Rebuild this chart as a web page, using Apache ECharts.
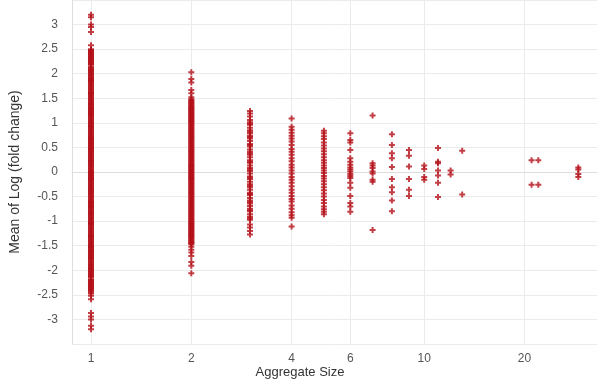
<!DOCTYPE html>
<html>
<head>
<meta charset="utf-8">
<script src="https://cdn.jsdelivr.net/npm/echarts@6/dist/echarts.min.js"></script>
<style>
  html, body { margin: 0; padding: 0; background: #fff; }
  #chart { width: 600px; height: 379px; }
</style>
</head>
<body>
<div id="chart"></div>
<script>
// mean log fold change per aggregate size
const size1 = [3.2, 3.15, 3.0, 2.95, 2.85, 2.58, 2.5, 2.46, 2.42, 2.38, 2.34, 2.3, 2.26, 2.22, 2.18,
  2.14, 2.1, 2.07, 2.03, 1.99, 1.95, 1.91, 1.87, 1.84, 1.8, 1.76, 1.72, 1.68, 1.64, 1.61, 1.57,
  1.53, 1.49, 1.45, 1.41, 1.38, 1.34, 1.3, 1.26, 1.22, 1.18, 1.15, 1.11, 1.07, 1.03, 0.99, 0.95,
  0.92, 0.88, 0.84, 0.8, 0.76, 0.72, 0.69, 0.65, 0.61, 0.57, 0.53, 0.49, 0.46, 0.42, 0.38, 0.34,
  0.3, 0.26, 0.23, 0.19, 0.15, 0.11, 0.07, 0.03, 0.0, -0.04, -0.08, -0.12, -0.15, -0.19, -0.23,
  -0.27, -0.31, -0.35, -0.38, -0.42, -0.46, -0.5, -0.54, -0.58, -0.61, -0.65, -0.69, -0.73, -0.77,
  -0.81, -0.84, -0.88, -0.92, -0.96, -1.0, -1.04, -1.07, -1.11, -1.15, -1.19, -1.23, -1.27, -1.3,
  -1.34, -1.38, -1.42, -1.46, -1.5, -1.53, -1.57, -1.61, -1.65, -1.69, -1.73, -1.76, -1.8, -1.84,
  -1.88, -1.92, -1.96, -1.99, -2.03, -2.07, -2.11, -2.14, -2.18, -2.22, -2.26, -2.3, -2.34, -2.38,
  -2.42, -2.47, -2.52, -2.59, -2.87, -2.94, -3.0, -3.13, -3.2,
  2.12, 2.08, 2.05, 2.01, 1.97, 1.93, 1.89, 1.85, 1.82, 1.78, 1.74, 1.7, 1.66, 1.62, 1.59, 1.55,
  1.51, 1.47, 1.43, 1.39, 1.36, 1.32, 1.28, 1.24, 1.2, 1.16, 1.13, 1.09, 1.05, 1.01, 0.97, 0.93,
  0.9, 0.86, 0.82, 0.78, 0.74, 0.7, 0.67, 0.63, 0.59, 0.55, 0.51, 0.47, 0.44, 0.4, 0.36, 0.32,
  0.28, 0.24, 0.21, 0.17, 0.13, 0.09, 0.05, 0.01, -0.02, -0.06, -0.1, -0.14, -0.17, -0.21, -0.25,
  -0.29, -0.33, -0.37, -0.4, -0.44, -0.48, -0.52, -0.56, -0.6, -0.63, -0.67, -0.71, -0.75, -0.79,
  -0.83, -0.86, -0.9, -0.94, -0.98, -1.02, -1.06, -1.09, -1.13, -1.17, -1.21, -1.25, -1.29, -1.32,
  -1.36, -1.4, -1.44, -1.48, -1.52, -1.55, -1.59, -1.63, -1.67, -1.71, -1.75, -1.78, -1.82, -1.86,
  -1.9, -1.94, -1.97, -2.01, -2.05, -2.09, -2.12, 2.48, 2.44, 2.4, 2.36, 2.32, 2.28, 2.24, 2.2,
  -2.2, -2.24, -2.28, -2.32, -2.36, -2.4, -2.45];
const size2 = [2.03, 1.89, 1.82, 1.67, 1.6, 1.52, 1.48, 1.44, 1.4, 1.36, 1.32, 1.28, 1.24, 1.2,
  1.16, 1.12, 1.08, 1.04, 1.0, 0.96, 0.92, 0.88, 0.84, 0.8, 0.76, 0.72, 0.68, 0.64, 0.6, 0.56,
  0.52, 0.48, 0.44, 0.4, 0.36, 0.32, 0.28, 0.24, 0.2, 0.16, 0.12, 0.08, 0.04, 0.0, -0.04, -0.08,
  -0.12, -0.16, -0.2, -0.24, -0.28, -0.32, -0.36, -0.4, -0.44, -0.48, -0.52, -0.56, -0.6, -0.64,
  -0.68, -0.72, -0.76, -0.8, -0.84, -0.88, -0.92, -0.96, -1.0, -1.04, -1.08, -1.12, -1.16, -1.2,
  -1.24, -1.28, -1.32, -1.36, -1.4, -1.44, -1.47, -1.52, -1.58, -1.64, -1.71, -1.83, -1.91, -2.06,
  1.46, 1.42, 1.38, 1.34, 1.3, 1.26, 1.22, 1.18, 1.14, 1.1, 1.06, 1.02, 0.98, 0.94, 0.9, 0.86,
  0.82, 0.78, 0.74, 0.7, 0.66, 0.62, 0.58, 0.54, 0.5, 0.46, 0.42, 0.38, 0.34, 0.3, 0.26, 0.22,
  0.18, 0.14, 0.1, 0.06, 0.02, -0.02, -0.06, -0.1, -0.14, -0.18, -0.22, -0.26, -0.3, -0.34, -0.38,
  -0.42, -0.46, -0.5, -0.54, -0.58, -0.62, -0.66, -0.7, -0.74, -0.78, -0.82, -0.86, -0.9, -0.94,
  -0.98, -1.02, -1.06, -1.1, -1.14, -1.18, -1.22, -1.26, -1.3, -1.34, -1.38, -1.42, -1.45];
const size3 = [1.24, 1.19, 1.13, 1.06, 1.01, 0.96, 0.9, 0.85, 0.79, 0.74, 0.68, 0.63, 0.57, 0.52,
  0.46, 0.41, 0.35, 0.3, 0.24, 0.19, 0.13, 0.08, 0.02, -0.03, -0.09, -0.14, -0.2, -0.25, -0.31,
  -0.36, -0.42, -0.47, -0.53, -0.58, -0.64, -0.69, -0.75, -0.8, -0.86, -0.91, -0.97, -1.07,
  -1.13, -1.2, -1.27, 0.98, 0.82, 0.71, 0.55, 0.38, 0.21, 0.05, -0.11, -0.28, -0.45, -0.61,
  -0.78, -0.94];
const size4 = [1.09, 0.92, 0.86, 0.8, 0.74, 0.68, 0.62, 0.55, 0.47, 0.41, 0.35, 0.28, 0.22, 0.15,
  0.09, 0.03, -0.03, -0.1, -0.16, -0.22, -0.29, -0.36, -0.42, -0.49, -0.55, -0.6, -0.68, -0.75,
  -0.82, -0.88, -0.93, -1.11];
const size5 = [0.84, 0.79, 0.73, 0.67, 0.6, 0.54, 0.48, 0.42, 0.36, 0.3, 0.24, 0.19, 0.13, 0.08,
  0.03, -0.02, -0.08, -0.13, -0.19, -0.25, -0.31, -0.37, -0.44, -0.5, -0.57, -0.63, -0.7, -0.76,
  -0.81, -0.86];
const size6 = [0.79, 0.65, 0.6, 0.45, 0.28, 0.21, 0.15, 0.09, 0.05, 0.01, -0.04, -0.08, -0.12,
  -0.22, -0.32, -0.49, -0.63, -0.7, -0.81];
const size7 = [1.15, 0.18, 0.13, 0.08, 0.01, -0.03, -0.16, -0.2, -1.18];
const size8 = [0.77, 0.55, 0.38, 0.28, 0.1, -0.14, -0.31, -0.41, -0.58, -0.8];
const size9 = [0.45, 0.33, 0.11, -0.14, -0.36, -0.49];
const size10 = [0.13, 0.06, -0.1, -0.16];
const size11 = [0.49, 0.21, 0.18, 0.03, -0.07, -0.22, -0.51];
const size12 = [0.03, -0.05];
const size13 = [0.43, -0.46];
const size21 = [0.24, -0.26];
const size22 = [0.24, -0.26];
const size29 = [0.09, 0.05, -0.04, -0.1];

const groups = [
  [1, size1], [2, size2], [3, size3], [4, size4], [5, size5], [6, size6], [7, size7],
  [8, size8], [9, size9], [10, size10], [11, size11], [12, size12], [13, size13],
  [21, size21], [22, size22], [29, size29]
];
const xTicks = [1, 2, 4, 6, 10, 20];

const points = [];
groups.forEach(g => {
  g[1].forEach(v => points.push([g[0], v]));
});

const chart = echarts.init(document.getElementById('chart'));
const font = 'Liberation Sans, Arial, sans-serif';

chart.setOption({
  animation: false,
  title: {
    text: 'Aggregate Size',
    left: 'center',
    top: 361,
    textStyle: { fontFamily: font, fontSize: 13, fontWeight: 'normal', color: '#333' }
  },
  grid: { left: 72, right: 3, top: 0, bottom: 35 },
  xAxis: {
    type: 'log',
    logBase: 2,
    min: 0.877,
    max: 33,
    axisLine: { show: true, lineStyle: { color: '#ddd' } },
    axisTick: { show: false, customValues: xTicks },
    axisLabel: {
      customValues: xTicks,
      margin: 9,
      color: '#555',
      fontFamily: font,
      fontSize: 12
    },
    splitLine: { show: true, lineStyle: { color: '#ebebeb' } }
  },
  yAxis: {
    type: 'value',
    min: -3.5,
    max: 3.5,
    interval: 0.5,
    name: 'Mean of Log (fold change)',
    nameLocation: 'middle',
    nameGap: 50,
    nameTextStyle: { fontFamily: font, fontSize: 14, color: '#333' },
    axisLine: { show: true, lineStyle: { color: '#ddd' } },
    axisTick: { show: false },
    axisLabel: {
      showMinLabel: false,
      showMaxLabel: false,
      margin: 14,
      color: '#555',
      fontFamily: font,
      fontSize: 12
    },
    splitLine: { show: true, lineStyle: { color: '#ebebeb' } }
  },
  series: [{
    type: 'scatter',
    data: points,
    symbol: 'path://M2,0H4V2H6V4H4V6H2V4H0V2H2Z',
    symbolSize: 6,
    itemStyle: { color: '#b30f18' }
  }]
});
</script>
</body>
</html>
